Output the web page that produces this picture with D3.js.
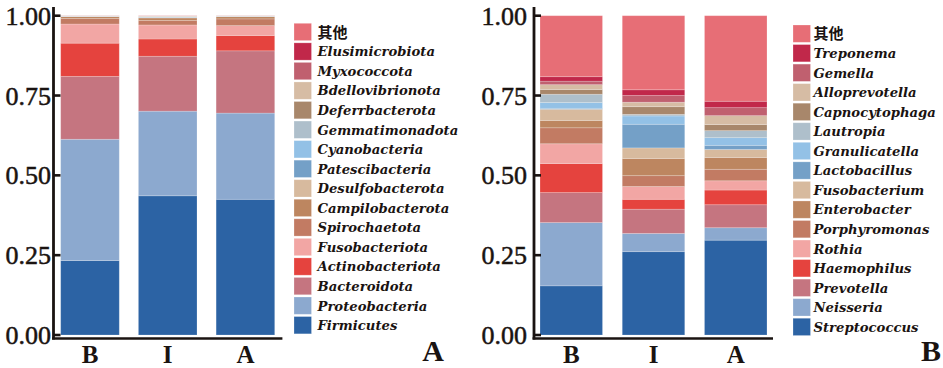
<!DOCTYPE html>
<html><head><meta charset="utf-8">
<script src="https://cdn.jsdelivr.net/npm/d3@7"></script>
<style>body{margin:0;background:#fff}svg{display:block}</style>
</head><body>
<svg id="c" width="943" height="368"></svg>
<script>
const groups = ["B","I","A"];
const phyla = ["Firmicutes","Proteobacteria","Bacteroidota","Actinobacteriota","Fusobacteriota","Spirochaetota","Campilobacterota","Desulfobacterota","Patescibacteria","Cyanobacteria","Gemmatimonadota","Deferrbacterota","Bdellovibrionota","Myxococcota","Elusimicrobiota","其他"];
const phylaB = [0.233,0.380,0.197,0.104,0.060,0.017,0.006,0.001,0.0005,0.0003,0.0003,0.0003,0.0003,0.0003,0.0001,0.0002];
const phylaI = [0.436,0.265,0.172,0.054,0.044,0.014,0.008,0.001,0.001,0.0005,0.0015,0.0005,0.0015,0.0005,0.0002,0.0003];
const phylaA = [0.425,0.270,0.195,0.048,0.031,0.021,0.007,0.001,0.0005,0.0003,0.0003,0.0003,0.0003,0.0003,0.0001,0.0002];
const genera = ["Streptococcus","Neisseria","Prevotella","Haemophilus","Rothia","Porphyromonas","Enterobacter","Fusobacterium","Lactobacillus","Granulicatella","Lautropia","Capnocytophaga","Alloprevotella","Gemella","Treponema","其他"];
const genusB = [0.154,0.198,0.094,0.091,0.062,0.050,0.023,0.035,0.003,0.018,0.026,0.015,0.015,0.011,0.014,0.191];
const genusI = [0.261,0.057,0.076,0.031,0.040,0.034,0.054,0.033,0.074,0.026,0.005,0.024,0.014,0.021,0.018,0.232];
const genusA = [0.297,0.039,0.072,0.046,0.029,0.036,0.037,0.025,0.013,0.024,0.022,0.019,0.028,0.025,0.020,0.268];
const yTicks = [0,0.25,0.5,0.75,1];
const colors = ["#2C63A4","#8CA9CF","#C57580","#E5433E","#F2A6A4","#C27B63","#BD8660","#D7BA9E","#74A0C7","#93C1E6","#AEBFCB","#A8876B","#D6BCA4","#C0606F","#C1284A","#E76E76"];

const svg = d3.select("#c");

function panel(cfg){
  const {names, values, xRange, padIn, padOut, axisX, labelEnd, legX, legTop, textX, panelLabel, panelX} = cfg;
  const y = d3.scaleLinear().domain([0,1]).range([335,15.7]);
  const x = d3.scaleBand().domain(groups).range(xRange).paddingInner(padIn).paddingOuter(padOut);
  const color = d3.scaleOrdinal().domain(names).range(colors);
  const rows = groups.map((g,i)=>{const o={g}; names.forEach((n,j)=>o[n]=values[i][j]); return o;});
  const stack = d3.stack().keys(names)(rows);
  const g = svg.append("g");
  g.selectAll("g.s").data(stack).join("g").attr("fill",d=>color(d.key))
    .selectAll("rect").data(d=>d).join("rect")
    .attr("x",d=>x(d.data.g)).attr("width",x.bandwidth())
    .attr("y",d=>y(d[1])).attr("height",d=>Math.max(0,y(d[0])-y(d[1])))
    .attr("stroke","#fff").attr("stroke-opacity",0.25).attr("stroke-width",0.8);
  // axes
  g.append("line").attr("x1",axisX).attr("x2",axisX).attr("y1",7).attr("y2",339.5).attr("stroke","#1a1311").attr("stroke-width",2.8);
  g.append("line").attr("x1",axisX-1.4).attr("x2",xRange[1]+1).attr("y1",338.5).attr("y2",338.5).attr("stroke","#1a1311").attr("stroke-width",2.6);
  g.selectAll("line.t").data(yTicks).join("line").attr("class","t")
    .attr("x1",axisX).attr("x2",axisX+7).attr("y1",d=>y(d)).attr("y2",d=>y(d))
    .attr("stroke","#1a1311").attr("stroke-width",2.6);
  g.selectAll("text.yt").data(yTicks).join("text").attr("class","yt")
    .attr("x",labelEnd).attr("y",d=>y(d)).attr("dy","0.35em").attr("text-anchor","end")
    .attr("font-family","'Liberation Serif','Times New Roman',serif").attr("font-size",26)
    .attr("fill","#1a1311").attr("stroke","#1a1311").attr("stroke-width",0.5).text(d=>d3.format(".2f")(d));
  g.selectAll("text.xt").data(groups).join("text").attr("class","xt")
    .attr("x",d=>x(d)+x.bandwidth()/2).attr("y",362.5).attr("text-anchor","middle")
    .attr("font-family","'Liberation Serif','Times New Roman',serif").attr("font-size",25).attr("font-weight","bold")
    .attr("fill","#1a1311").text(d=>d);
  // legend
  const leg = names.slice().reverse();
  const lg = g.selectAll("g.l").data(leg).join("g").attr("class","l")
    .attr("transform",(d,i)=>`translate(0,${legTop+i*19.55})`);
  lg.append("rect").attr("x",legX).attr("y",0).attr("width",17.5).attr("height",17.3).attr("fill",d=>color(d))
    .attr("stroke","#fff").attr("stroke-opacity",0.3).attr("stroke-width",0.8);
  lg.append("text").attr("x",textX).attr("y",8.8).attr("dy","0.36em")
    .attr("font-family",d=>d==="其他"?"'Noto Sans CJK SC',sans-serif":"'DejaVu Serif',serif")
    .attr("font-style",d=>d==="其他"?"normal":"italic").attr("font-weight","bold")
    .attr("font-size",d=>d==="其他"?15:13.2).attr("fill","#1a1311").text(d=>d);
  g.append("text").attr("x",panelX).attr("y",361).attr("text-anchor","middle")
    .attr("font-family","'Liberation Serif','Times New Roman',serif").attr("font-size",30).attr("font-weight","bold")
    .attr("fill","#1a1311").text(panelLabel);
}

panel({names:phyla, values:[phylaB,phylaI,phylaA], xRange:[54,281.4], padIn:0.246, padOut:0.086,
  axisX:53.5, labelEnd:51, legX:294, legTop:23.3, textX:317.5, panelLabel:"A", panelX:433});
panel({names:genera, values:[genusB,genusI,genusA], xRange:[535,772], padIn:0.24, padOut:0.061,
  axisX:534, labelEnd:527, legX:793, legTop:25, textX:813.5, panelLabel:"B", panelX:931});
</script>
</body></html>
